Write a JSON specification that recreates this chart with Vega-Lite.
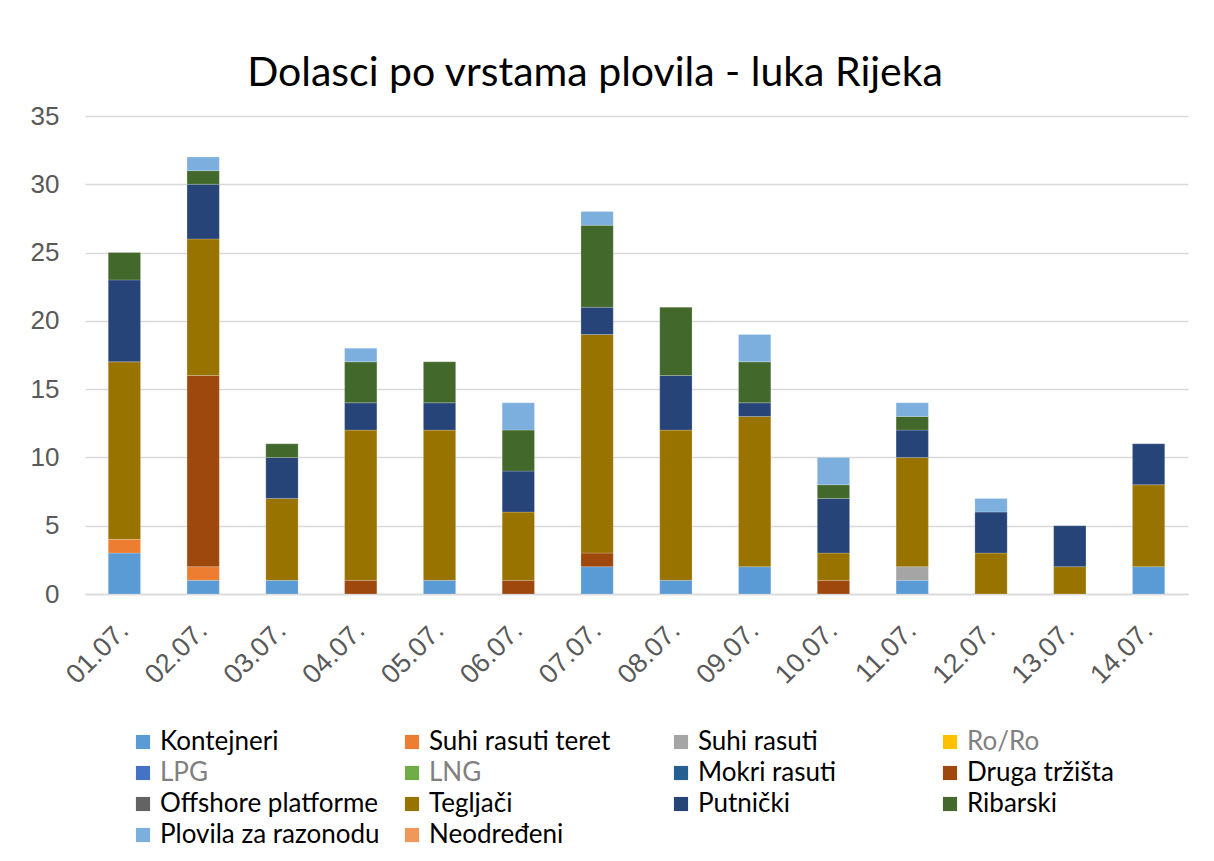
{
  "$schema": "https://vega.github.io/schema/vega-lite/v6.json",
  "width": 1103,
  "height": 478,
  "autosize": {"type": "none"},
  "padding": {"left": 85, "top": 116, "right": 26, "bottom": 267},
  "background": "white",
  "title": {
    "text": "Dolasci po vrstama plovila - luka Rijeka",
    "font": "Lato",
    "fontSize": 41,
    "fontWeight": "normal",
    "color": "#000000",
    "anchor": "middle",
    "frame": "bounds",
    "offset": 8,
    "dx": -14
  },
  "data": {
    "values": [
      {"d": "01.07.", "tip": "Kontejneri", "s": 1, "n": 3},
      {"d": "01.07.", "tip": "Suhi rasuti teret", "s": 2, "n": 1},
      {"d": "01.07.", "tip": "Tegljači", "s": 10, "n": 13},
      {"d": "01.07.", "tip": "Putnički", "s": 11, "n": 6},
      {"d": "01.07.", "tip": "Ribarski", "s": 12, "n": 2},
      {"d": "02.07.", "tip": "Kontejneri", "s": 1, "n": 1},
      {"d": "02.07.", "tip": "Suhi rasuti teret", "s": 2, "n": 1},
      {"d": "02.07.", "tip": "Druga tržišta", "s": 8, "n": 14},
      {"d": "02.07.", "tip": "Tegljači", "s": 10, "n": 10},
      {"d": "02.07.", "tip": "Putnički", "s": 11, "n": 4},
      {"d": "02.07.", "tip": "Ribarski", "s": 12, "n": 1},
      {"d": "02.07.", "tip": "Plovila za razonodu", "s": 13, "n": 1},
      {"d": "03.07.", "tip": "Kontejneri", "s": 1, "n": 1},
      {"d": "03.07.", "tip": "Tegljači", "s": 10, "n": 6},
      {"d": "03.07.", "tip": "Putnički", "s": 11, "n": 3},
      {"d": "03.07.", "tip": "Ribarski", "s": 12, "n": 1},
      {"d": "04.07.", "tip": "Druga tržišta", "s": 8, "n": 1},
      {"d": "04.07.", "tip": "Tegljači", "s": 10, "n": 11},
      {"d": "04.07.", "tip": "Putnički", "s": 11, "n": 2},
      {"d": "04.07.", "tip": "Ribarski", "s": 12, "n": 3},
      {"d": "04.07.", "tip": "Plovila za razonodu", "s": 13, "n": 1},
      {"d": "05.07.", "tip": "Kontejneri", "s": 1, "n": 1},
      {"d": "05.07.", "tip": "Tegljači", "s": 10, "n": 11},
      {"d": "05.07.", "tip": "Putnički", "s": 11, "n": 2},
      {"d": "05.07.", "tip": "Ribarski", "s": 12, "n": 3},
      {"d": "06.07.", "tip": "Druga tržišta", "s": 8, "n": 1},
      {"d": "06.07.", "tip": "Tegljači", "s": 10, "n": 5},
      {"d": "06.07.", "tip": "Putnički", "s": 11, "n": 3},
      {"d": "06.07.", "tip": "Ribarski", "s": 12, "n": 3},
      {"d": "06.07.", "tip": "Plovila za razonodu", "s": 13, "n": 2},
      {"d": "07.07.", "tip": "Kontejneri", "s": 1, "n": 2},
      {"d": "07.07.", "tip": "Druga tržišta", "s": 8, "n": 1},
      {"d": "07.07.", "tip": "Tegljači", "s": 10, "n": 16},
      {"d": "07.07.", "tip": "Putnički", "s": 11, "n": 2},
      {"d": "07.07.", "tip": "Ribarski", "s": 12, "n": 6},
      {"d": "07.07.", "tip": "Plovila za razonodu", "s": 13, "n": 1},
      {"d": "08.07.", "tip": "Kontejneri", "s": 1, "n": 1},
      {"d": "08.07.", "tip": "Tegljači", "s": 10, "n": 11},
      {"d": "08.07.", "tip": "Putnički", "s": 11, "n": 4},
      {"d": "08.07.", "tip": "Ribarski", "s": 12, "n": 5},
      {"d": "09.07.", "tip": "Kontejneri", "s": 1, "n": 2},
      {"d": "09.07.", "tip": "Tegljači", "s": 10, "n": 11},
      {"d": "09.07.", "tip": "Putnički", "s": 11, "n": 1},
      {"d": "09.07.", "tip": "Ribarski", "s": 12, "n": 3},
      {"d": "09.07.", "tip": "Plovila za razonodu", "s": 13, "n": 2},
      {"d": "10.07.", "tip": "Druga tržišta", "s": 8, "n": 1},
      {"d": "10.07.", "tip": "Tegljači", "s": 10, "n": 2},
      {"d": "10.07.", "tip": "Putnički", "s": 11, "n": 4},
      {"d": "10.07.", "tip": "Ribarski", "s": 12, "n": 1},
      {"d": "10.07.", "tip": "Plovila za razonodu", "s": 13, "n": 2},
      {"d": "11.07.", "tip": "Kontejneri", "s": 1, "n": 1},
      {"d": "11.07.", "tip": "Suhi rasuti", "s": 3, "n": 1},
      {"d": "11.07.", "tip": "Tegljači", "s": 10, "n": 8},
      {"d": "11.07.", "tip": "Putnički", "s": 11, "n": 2},
      {"d": "11.07.", "tip": "Ribarski", "s": 12, "n": 1},
      {"d": "11.07.", "tip": "Plovila za razonodu", "s": 13, "n": 1},
      {"d": "12.07.", "tip": "Tegljači", "s": 10, "n": 3},
      {"d": "12.07.", "tip": "Putnički", "s": 11, "n": 3},
      {"d": "12.07.", "tip": "Plovila za razonodu", "s": 13, "n": 1},
      {"d": "13.07.", "tip": "Tegljači", "s": 10, "n": 2},
      {"d": "13.07.", "tip": "Putnički", "s": 11, "n": 3},
      {"d": "14.07.", "tip": "Kontejneri", "s": 1, "n": 2},
      {"d": "14.07.", "tip": "Tegljači", "s": 10, "n": 6},
      {"d": "14.07.", "tip": "Putnički", "s": 11, "n": 3}
    ]
  },
  "mark": {"type": "bar", "stroke": "#ffffff", "strokeWidth": 0.4, "strokeOpacity": 0.5},
  "encoding": {
    "x": {
      "field": "d",
      "type": "nominal",
      "sort": null,
      "scale": {"paddingInner": 0.59, "paddingOuter": 0.295},
      "axis": {
        "title": null,
        "labelAngle": -45,
        "labelAlign": "right",
        "labelBaseline": "middle",
        "labelFont": "Liberation Sans",
        "labelFontSize": 27,
        "labelColor": "#595959",
        "labelPadding": 32,
        "ticks": false,
        "domainColor": "#d9d9d9",
        "domainWidth": 1.5
      }
    },
    "y": {
      "field": "n",
      "type": "quantitative",
      "aggregate": "sum",
      "stack": "zero",
      "scale": {"domain": [0, 35], "nice": false},
      "axis": {
        "title": null,
        "values": [0, 5, 10, 15, 20, 25, 30, 35],
        "labelFont": "Liberation Sans",
        "labelFontSize": 26,
        "labelColor": "#595959",
        "labelPadding": 26,
        "ticks": false,
        "domain": false,
        "gridColor": "#d9d9d9",
        "gridWidth": 1.5
      }
    },
    "order": {"field": "s", "type": "quantitative", "sort": "ascending"},
    "color": {
      "field": "tip",
      "type": "nominal",
      "scale": {
        "domain": ["Kontejneri", "Suhi rasuti teret", "Suhi rasuti", "Ro/Ro", "LPG", "LNG", "Mokri rasuti", "Druga tržišta", "Offshore platforme", "Tegljači", "Putnički", "Ribarski", "Plovila za razonodu", "Neodređeni"],
        "range": ["#5B9BD5", "#ED7D31", "#A5A5A5", "#FFC000", "#4472C4", "#70AD47", "#255E91", "#9E480E", "#636363", "#997300", "#264478", "#43682B", "#7CAFDD", "#F1975A"]
      },
      "legend": {
        "title": null,
        "orient": "none",
        "legendX": 45,
        "legendY": 613,
        "direction": "horizontal",
        "columns": 4,
        "gridAlign": "all",
        "symbolType": "square",
        "symbolSize": 200,
        "symbolStrokeWidth": 0,
        "labelFont": "Lato",
        "labelFontSize": 26,
        "labelColor": {"expr": "indexof(['Ro/Ro', 'LPG', 'LNG'], datum.label) >= 0 ? '#808080' : '#000000'"},
        "labelOffset": 4,
        "labelLimit": 400,
        "rowPadding": 5,
        "columnPadding": 19,
        "padding": 0
      }
    }
  },
  "config": {"view": {"stroke": null}}
}
